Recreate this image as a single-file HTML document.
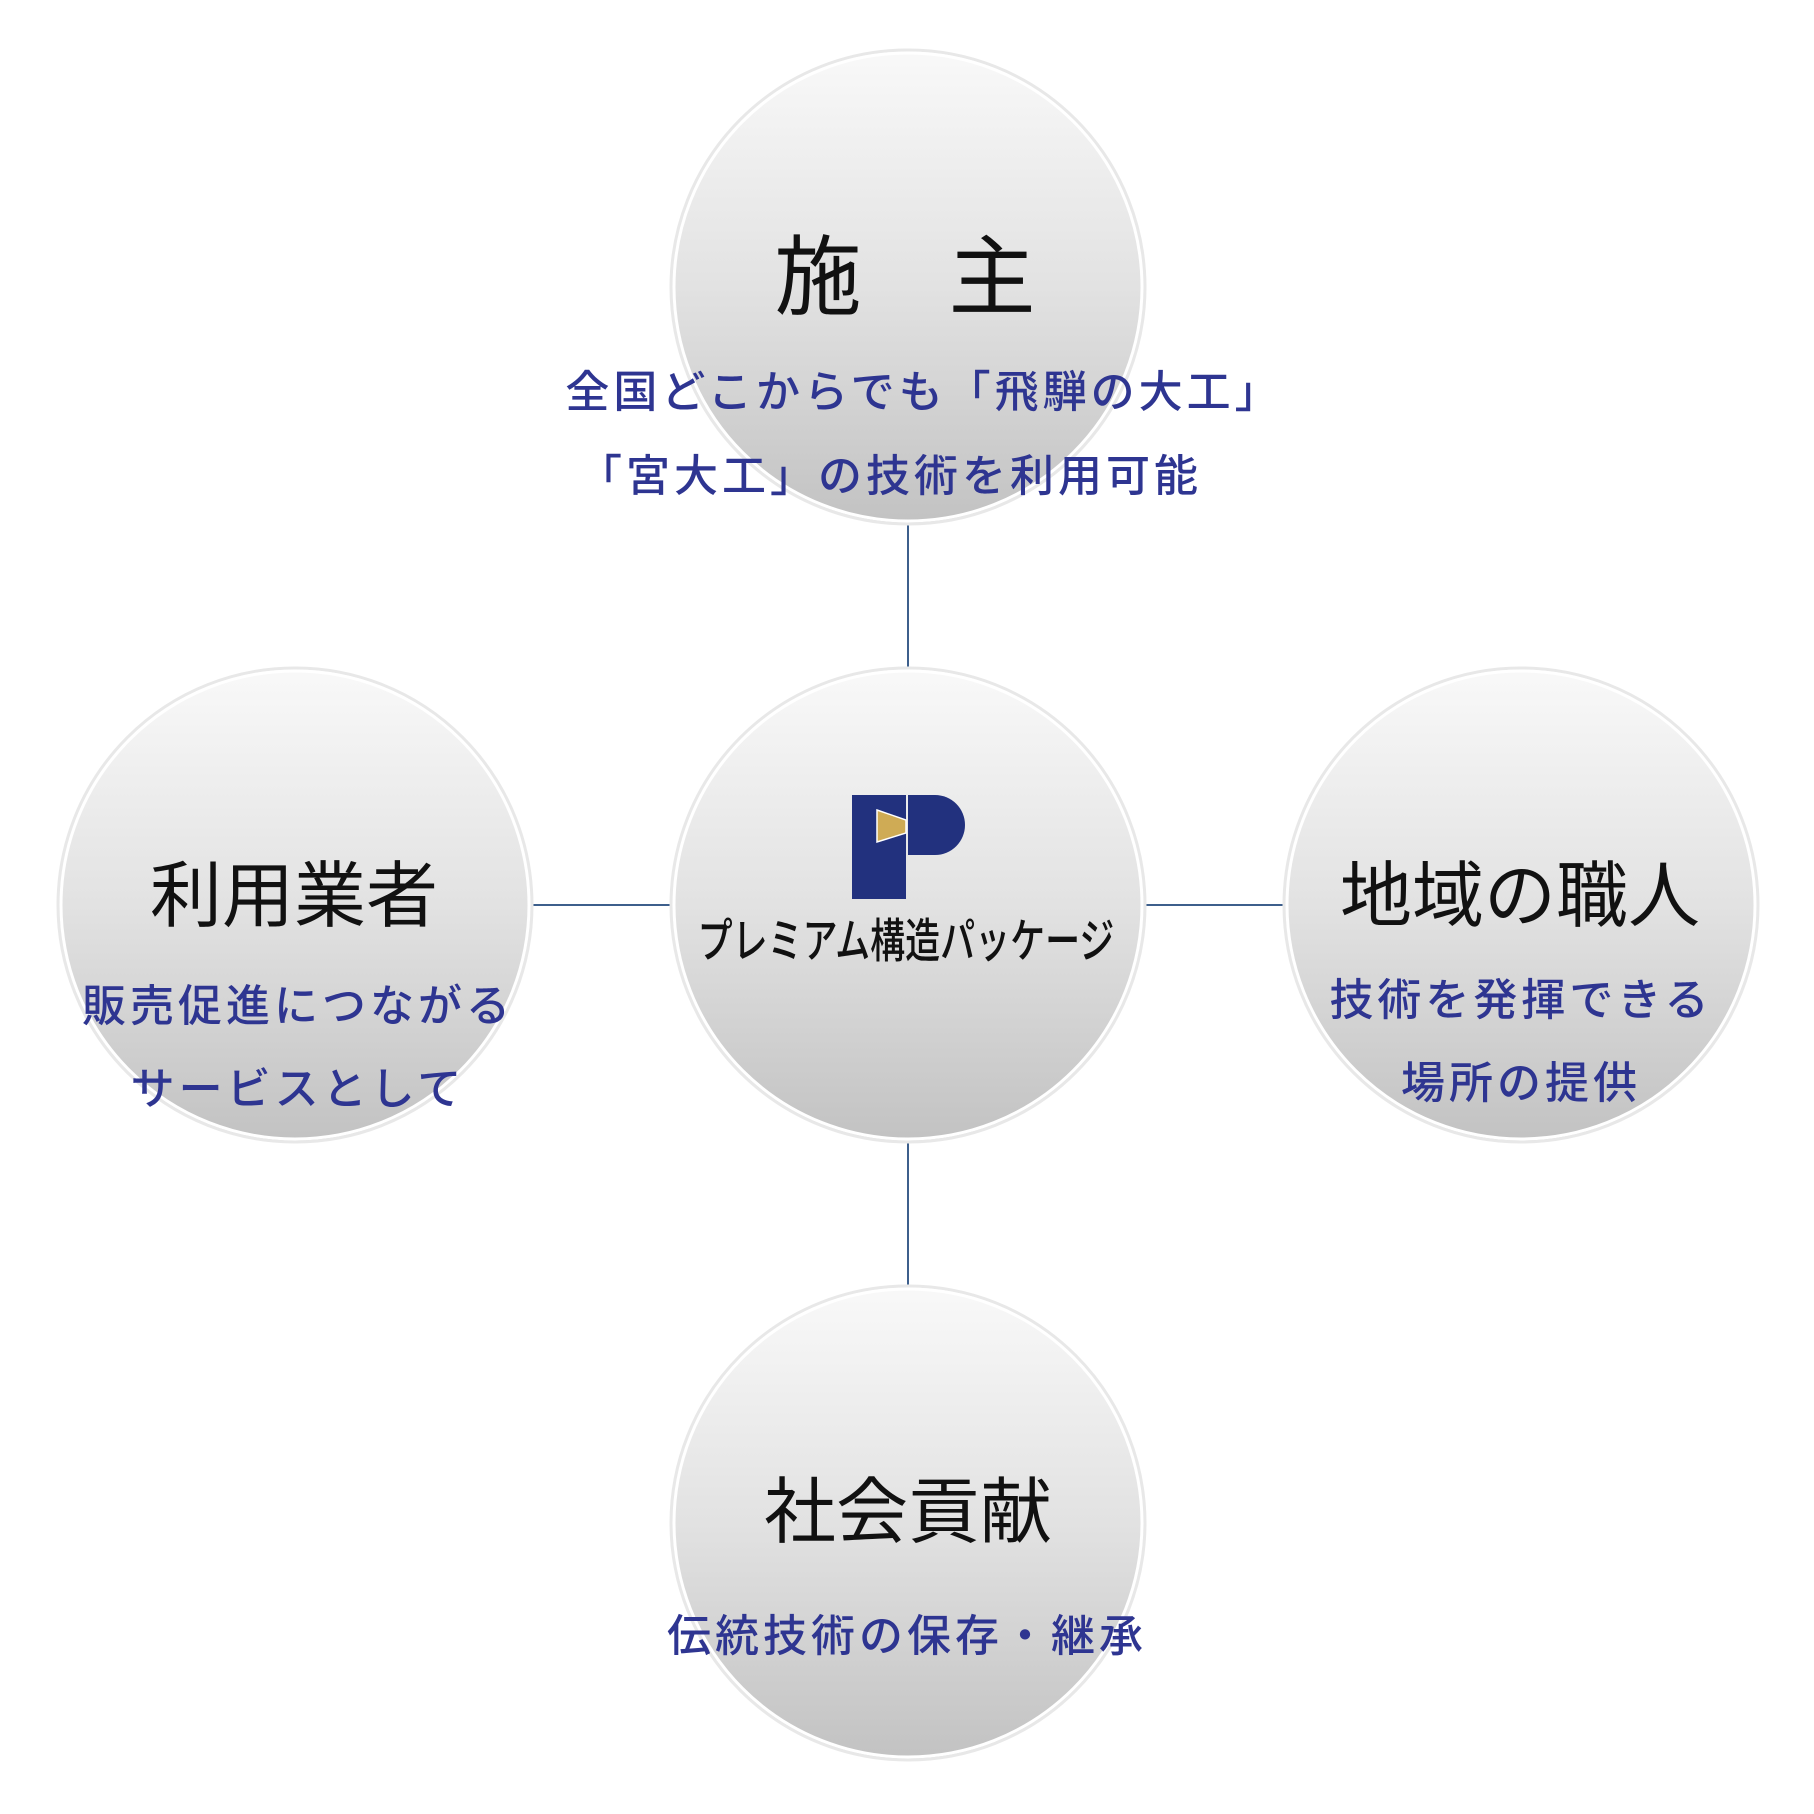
<!DOCTYPE html>
<html><head><meta charset="utf-8"><style>
body{margin:0;width:1814px;height:1814px;background:#fff;position:relative;overflow:hidden;font-family:"Liberation Sans","Noto Sans CJK JP",sans-serif}
.t{position:absolute;white-space:nowrap;transform:translate(-50%,-50%);line-height:1}
.h{color:#111;font-size:72px}
.s{color:#2e3591;font-size:44px;letter-spacing:4px;font-weight:500}
</style></head><body>
<svg width="1814" height="1814" style="position:absolute;left:0;top:0">
<defs>
<linearGradient id="g" x1="0" y1="0" x2="0" y2="1">
<stop offset="0" stop-color="#f9f9f9"/><stop offset="0.5" stop-color="#e2e2e2"/><stop offset="1" stop-color="#c2c2c2"/>
</linearGradient>
</defs>
<g stroke="#3d5f8c" stroke-width="2">
<line x1="908" y1="520" x2="908" y2="668"/>
<line x1="908" y1="1142" x2="908" y2="1286"/>
<line x1="530" y1="905" x2="672" y2="905"/>
<line x1="1144" y1="905" x2="1288" y2="905"/>
</g>
<g>
<circle cx="908" cy="287" r="237" fill="url(#g)" stroke="#e8e8e8" stroke-width="3"/>
<circle cx="908" cy="287" r="234" fill="none" stroke="#fff" stroke-width="3"/>
<circle cx="908" cy="905" r="237" fill="url(#g)" stroke="#e8e8e8" stroke-width="3"/>
<circle cx="908" cy="905" r="234" fill="none" stroke="#fff" stroke-width="3"/>
<circle cx="295" cy="905" r="237" fill="url(#g)" stroke="#e8e8e8" stroke-width="3"/>
<circle cx="295" cy="905" r="234" fill="none" stroke="#fff" stroke-width="3"/>
<circle cx="1521" cy="905" r="237" fill="url(#g)" stroke="#e8e8e8" stroke-width="3"/>
<circle cx="1521" cy="905" r="234" fill="none" stroke="#fff" stroke-width="3"/>
<circle cx="908" cy="1523" r="237" fill="url(#g)" stroke="#e8e8e8" stroke-width="3"/>
<circle cx="908" cy="1523" r="234" fill="none" stroke="#fff" stroke-width="3"/>
</g>
<g fill="#22317e">
<rect x="852" y="795" width="54" height="104"/>
<path d="M908 795 H935 A30 30 0 0 1 965 825 A30 30 0 0 1 935 855 H908 Z"/>
</g>
<path d="M877 810 L906 820 L906 833 L877 842 Z" fill="#cfab55" stroke="#fff" stroke-width="1.5"/>
</svg>
<div class="t" style="left:906px;top:942px;font-size:35px;font-weight:500;color:#111;transform:translate(-50%,-50%) scaleY(1.35)">プレミアム構造パッケージ</div>
<div class="t h" style="left:905px;top:278px;font-size:87px">施　主</div>
<div class="t s" style="left:924px;top:393px">全国どこからでも「飛騨の大工」</div>
<div class="t s" style="left:890px;top:477px">「宮大工」の技術を利用可能</div>
<div class="t h" style="left:294px;top:897px">利用業者</div>
<div class="t s" style="left:298px;top:1007px">販売促進につながる</div>
<div class="t s" style="left:298px;top:1090px">サービスとして</div>
<div class="t h" style="left:1520px;top:897px">地域の職人</div>
<div class="t s" style="left:1521px;top:1001px">技術を発揮できる</div>
<div class="t s" style="left:1521px;top:1084px">場所の提供</div>
<div class="t h" style="left:908px;top:1513px">社会貢献</div>
<div class="t s" style="left:907px;top:1637px">伝統技術の保存・継承</div>
</body></html>
